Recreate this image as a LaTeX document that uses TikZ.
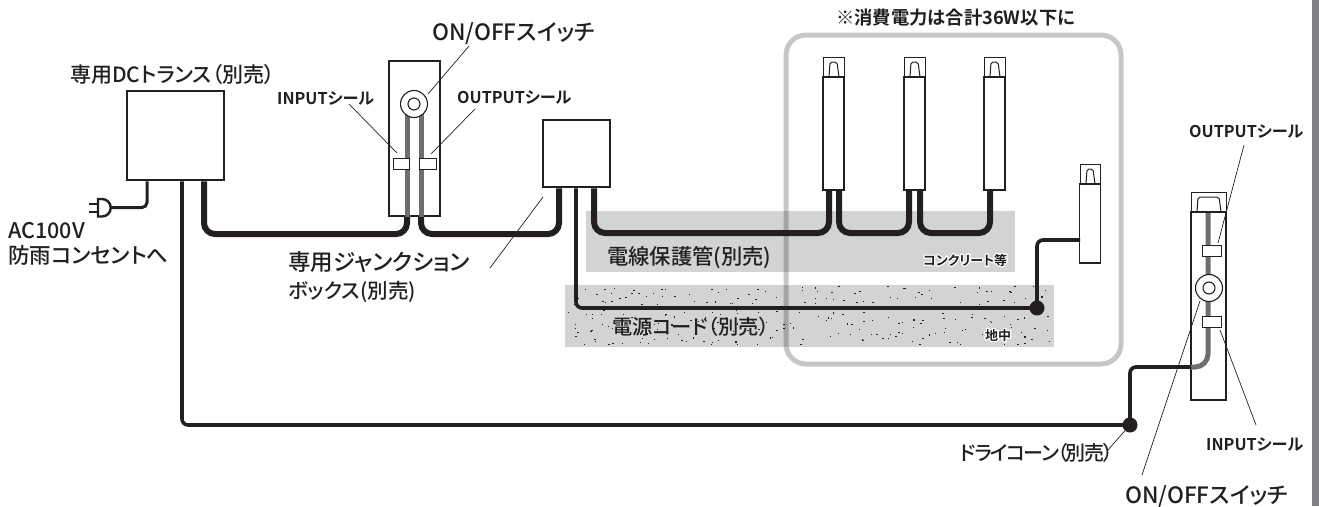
\documentclass[tikz,border=0pt]{standalone}
\usepackage{fontspec}
\setmainfont{Noto Sans CJK JP Medium}[RawFeature=+palt]
\newfontfamily\jpb{Noto Sans CJK JP Bold}[RawFeature=+palt]
\newfontfamily\jphalo{Noto Sans CJK JP Bold}[RawFeature=+palt,FakeBold=18,Color=FFFFFF]
\definecolor{ink}{HTML}{231F20}
\definecolor{areagray}{HTML}{D1D3D4}
\definecolor{wiregray}{HTML}{6D6E71}
\definecolor{barcol}{HTML}{808285}
\newcommand{\halotxt}[1]{\rlap{\jphalo #1}{\jpb #1}}
\newcommand{\fs}[1]{\fontsize{#1}{#1}\selectfont}
\tikzset{
  lab/.style={font=\fs{21},text=ink,inner sep=0pt,anchor=base west,align=left},
  bold/.style={font=\jpb\fs{16.2},text=ink,inner sep=0pt,anchor=base west},
  tiny/.style={font=\fs{13},text=ink,inner sep=0pt,anchor=base west},
  boxn/.style={draw=ink,line width=2.6pt,fill=white,inner sep=0pt},
  housing/.style={draw=ink,line width=2pt,fill=white,inner sep=0pt},
  lampbody/.style={draw=ink,line width=1.2pt,fill=white,inner sep=0pt,minimum width=21pt},
  seal/.style={draw=ink,line width=.7pt,fill=white,inner sep=0pt},
  knob/.style={circle,draw=ink,line width=1.1pt,fill=white,inner sep=0pt},
  cable/.style={draw=ink,line width=6pt,rounded corners=11pt},
  cord/.style={draw=ink,line width=3.6pt,rounded corners=6pt},
  gwire/.style={draw=wiregray,line width=5pt},
  leader/.style={draw=ink,line width=.7pt},
  cone/.style={circle,fill=ink,inner sep=0pt,minimum size=15pt},
  head/.style={draw=ink,line width=1pt,fill=white},
  rim/.style={draw=ink,line width=2.4pt},
}
\newcommand{\lamphead}[3]{% x-left, y-top, width
  \draw[head] (#1,#2+20) -- (#1,#2) -- (#1+#3,#2) -- (#1+#3,#2+20);
  \draw[head,rounded corners=2pt] (#1+6,#2+20) -- (#1+7,#2+5) -- (#1+#3-7,#2+5) -- (#1+#3-5,#2+20);
  \draw[rim] (#1-.5,#2+20) -- (#1+#3+.5,#2+20);
}
\begin{document}
\begin{tikzpicture}[x=1pt,y=-1pt]
\useasboundingbox (0,0) rectangle (1319,506);
% side bar
\fill[barcol] (1311.5,0) rectangle (1319,506);
% ground areas
\node[fill=areagray,inner sep=0pt,minimum width=429pt,minimum height=61pt] (conc) at (800.5,241.5) {};
\node[fill=areagray,inner sep=0pt,minimum width=489pt,minimum height=62pt] (soil) at (809.5,316) {};
\pgfmathsetseed{4711}
\foreach \gx in {572,580,...,1048}{
  \foreach \gy in {290,300,...,340}{
    \pgfmathsetmacro{\keep}{rnd}
    \ifdim\keep pt<0.72pt
      \pgfmathsetmacro{\dx}{\gx+(rnd-.5)*13}
      \pgfmathsetmacro{\dy}{\gy+(rnd-.5)*9}
      \fill[ink] (\dx,\dy) rectangle (\dx+1.4,\dy+1.1);
    \fi
  }
}
% limit frame
\draw[black,opacity=.22,line width=5pt,rounded corners=20pt] (786,35) rectangle (1121,364);
% transformer and plug
\node[boxn,minimum width=97pt,minimum height=89pt] (tr) at (175.5,135.5) {};
\draw[draw=ink,line width=3pt,rounded corners=5pt] (147,0 |- tr.south) |- (111,207.5);
\draw[draw=ink,line width=2.4pt,fill=white] (98,199) -- (102,199) arc (-90:90:8.75) -- (98,216.5) -- cycle;
\draw[draw=ink,line width=2.2pt] (89,204) -- (98,204) (89,212) -- (98,212);
% main cord
\node[cone] (dc1) at (1130,425) {};
\draw[cord] (182,0 |- tr.south) |- (dc1.center);
% left switch
\node[housing,minimum width=51pt,minimum height=155pt] (swL) at (414,138.5) {};
\draw[gwire] (407,104) -- (407,0 |- swL.south);
\draw[gwire] (421,104) -- (421,0 |- swL.south);
\node[knob,minimum size=27pt] (knobL) at (414,104) {};
\node[knob,minimum size=12pt] (knobLi) at (414,104) {};
\node[seal,minimum width=16pt,minimum height=11pt] (sealLa) at (401,163.5) {};
\node[seal,minimum width=17pt,minimum height=11pt] (sealLb) at (427.5,163.5) {};
% junction box
\node[boxn,minimum width=67pt,minimum height=67pt] (jb) at (576.5,153.5) {};
% lamps
\node[lampbody,minimum height=113pt] (l1) at (833.5,133.5) {};
\node[lampbody,minimum height=113pt] (l2) at (914.5,133.5) {};
\node[lampbody,minimum height=113pt] (l3) at (994.5,133.5) {};
\node[lampbody,minimum height=79pt] (l4) at (1090,223.5) {};
\lamphead{823}{57}{21}
\lamphead{904}{57}{21}
\lamphead{984}{57}{21}
\lamphead{1080}{164}{20}
% thick cables
\draw[cable] (204,0 |- tr.south) -- (204,234) -- (407,234) -- (407,0 |- swL.south);
\draw[cable] (421,0 |- swL.south) -- (421,234) -- (559,234) -- (559,0 |- jb.south);
\draw[cable] (594,0 |- jb.south) -- (594,233) -- (829,233) -- (829,0 |- l1.south);
\draw[cable] (839,0 |- l1.south) -- (839,233) -- (909,233) -- (909,0 |- l2.south);
\draw[cable] (920,0 |- l2.south) -- (920,233) -- (990,233) -- (990,0 |- l3.south);
% cord to lamp 4
\node[cone] (dc2) at (1037,308) {};
\draw[cord] (576,0 |- jb.south) |- (dc2.center);
\draw[cord] (dc2.center) |- (1080,240);
% right switch
\node[lampbody,minimum width=35pt,minimum height=188pt] (swR) at (1208.5,306) {};
\draw[draw=wiregray,line width=5pt,rounded corners=13pt] (1208,212) -- (1208,367) -- (1191,367);
\draw[cord] (dc1.center) |- (1191,367);
\lamphead{1191}{192}{35}
\node[knob,minimum size=27pt] (knobR) at (1209,288) {};
\node[knob,minimum size=12pt] (knobRi) at (1209,288) {};
\node[seal,minimum width=19pt,minimum height=11pt] (sealRa) at (1211.5,251) {};
\node[seal,minimum width=19pt,minimum height=11pt] (sealRb) at (1211.5,321.5) {};
% labels
\node[lab] (t1) at (70,82) {専用DCトランス（別売）};
\node[lab,font=\fs{22.5}] (t2) at (432,40) {ON/OFFスイッチ};
\node[bold] (t3) at (277,104.5) {INPUTシール};
\node[bold] (t4) at (457,103) {OUTPUTシール};
\node[lab,font=\fs{21.5}] (t5a) at (8,238) {AC100V};
\node[lab,font=\fs{21.5}] (t5b) at (8,263.5) {防雨コンセントへ};
\node[lab,font=\fs{22.5}] (t6a) at (288,270) {専用ジャンクション};
\node[lab,font=\fs{20.5}] (t6b) at (288,298) {ボックス(別売)};
\node[lab,font=\fs{21.3}] (t7) at (607,264) {電線保護管(別売)};
\node[lab,font=\fs{20.3}] (t8) at (612,334) {電源コード（別売）};
\node[tiny] (t9) at (923,265) {\halotxt{コンクリート等}};
\node[tiny] (t10) at (985,340) {\halotxt{地中}};
\node[bold,font=\jpb\fs{18.3}] (t11) at (836,24) {※消費電力は合計36W以下に};
\node[lab,font=\fs{20}\addfontfeature{LetterSpace=-7.5}] (t12) at (960,460) {ドライコーン（別売）};
\node[lab,font=\fs{22.5}] (t13) at (1125,503) {ON/OFFスイッチ};
\node[bold] (t14) at (1189,137) {OUTPUTシール};
\node[bold] (t15) at (1206,450) {INPUTシール};
% leaders
\draw[leader] (469,46) -- (428,94);
\draw[leader] (349,104) -- (397,153);
\draw[leader] (475,109) -- (431,154);
\draw[leader] (543,197) -- (490,268);
\draw[leader] (1244,145) -- (1218,243);
\draw[leader] (1256,425) -- (1220,330);
\draw[leader] (1142,475) -- (1200,301);
\draw[leader] (1107,451) -- (dc1);
\end{tikzpicture}
\end{document}
